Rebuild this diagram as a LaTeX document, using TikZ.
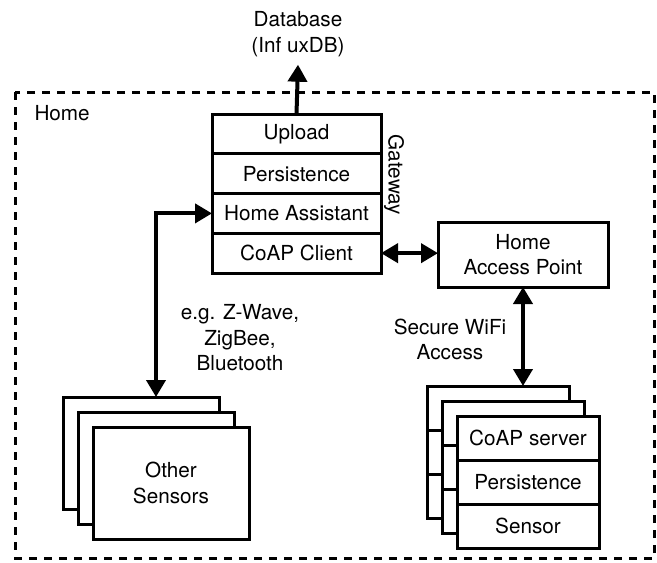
\documentclass[tikz,border=0pt]{standalone}
\usepackage{fontspec}
\setmainfont{TeX Gyre Heros}
\usetikzlibrary{arrows.meta,positioning}

\begin{document}
\begin{tikzpicture}[x=1pt,y=-1pt,
  font=\fontsize{20.7}{25.5}\selectfont,
  >={Triangle[length=17pt,width=19pt]},
  box/.style={draw,line width=3pt,fill=white,inner sep=0pt,outer sep=0pt,align=center},
  gwbox/.style={box,minimum width=169pt,minimum height=39.75pt},
  sbox/.style={box,minimum width=142pt,minimum height=44pt},
  obox/.style={box,minimum width=156pt,minimum height=112pt},
  conn/.style={line width=4pt}]
\useasboundingbox (0,0) rectangle (657,563);
\draw[line width=3pt,dash pattern=on 8pt off 7pt] (15,92) rectangle (654,558);
\node[anchor=west] (home) at (31,113) {Home};
% gateway
\node[gwbox] (upload) at (296.5,133.9) {Upload};
\node[gwbox,below=0pt of upload] (gwpers) {Persistence};
\node[gwbox,below=0pt of gwpers] (ha) {Home Assistant};
\node[gwbox,below=0pt of ha] (coap) {CoAP Client};
\node[rotate=-90] (gwlabel) at (394,175) {Gateway};
\node[align=center,inner ysep=8pt] (db) at (298,34) {Database\\(Inf uxDB)};
\draw[conn,->] (upload.north) -- (db.south);
% access point
\node[box,minimum width=170pt,minimum height=65pt] (ap) at (523,254.5) {Home\\Access Point};
\draw[conn,<->] (coap.east) -- (coap.east -| ap.west);
% sensors
\foreach \i/\s in {0/sa,1/sb} {
  \node[sbox] (\s1) at (498+15*\i,408+15*\i) {};
  \node[sbox,below=0pt of \s1] (\s2) {};
  \node[sbox,below=0pt of \s2] (\s3) {};
}
\node[sbox] (srv) at (528,438) {CoAP server};
\node[sbox,below=0pt of srv] (spers) {Persistence};
\node[sbox,below=0pt of spers] (sens) {Sensor};
\draw[conn,<->] (ap.south) -- (ap.south |- sa1.north);
\node[align=center] (wifi) at (450,339.5) {Secure WiFi\\Access};
% other sensors
\node[obox] (oa) at (141,453) {};
\node[obox] (ob) at (156,468) {};
\node[obox] (oc) at (171,483) {Other\\Sensors};
\draw[conn,<->] (ha.west) -| ([xshift=15pt]oa.north);
\node[align=center] (radio) at (240,338) {e.g. Z-Wave,\\ZigBee,\\Bluetooth};
\end{tikzpicture}
\end{document}
